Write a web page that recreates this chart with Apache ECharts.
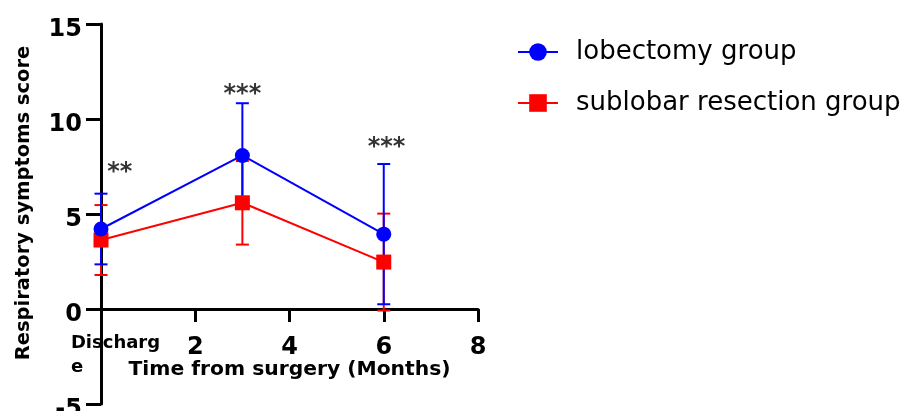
<!DOCTYPE html>
<html><head><meta charset="utf-8">
<script src="https://cdn.jsdelivr.net/npm/echarts@6/dist/echarts.min.js"></script>
<style>html,body{margin:0;padding:0;background:#fff}#c{width:917px;height:411px}</style>
</head><body><div id="c"></div>
<script>
// ---- data ----
const months = [0, 3, 6];
const firstTickLabel = ['Discharg', 'e'];
const lobectomyMean = [4.21, 8.08, 3.94];
const lobectomySD = [1.86, 2.75, 3.69];
const sublobarMean = [3.63, 5.59, 2.47];
const sublobarSD = [1.84, 2.2, 2.55];
const sigLabels = ['**', '***', '***'];
const sigX = [0.4, 3.0, 6.06];
const sigY = [7.37, 11.47, 8.7];
const seriesNames = ['lobectomy group', 'sublobar resection group'];

const FONT = 'DejaVu Sans';
const BLUE = '#0000ff', RED = '#ff0000';

function pts(mean) { return months.map((m, i) => [m, mean[i]]); }
function bars(mean, sd) { return months.map((m, i) => [m, mean[i] - sd[i], mean[i] + sd[i]]); }
function errorBars(color) {
  return function (params, api) {
    const x = api.value(0), lo = api.value(1), hi = api.value(2);
    const top = api.coord([x, hi]), bot = api.coord([x, lo]);
    const w = 6.5;
    const style = { stroke: color, lineWidth: 2 };
    return { type: 'group', children: [
      { type: 'line', shape: { x1: top[0], y1: top[1], x2: bot[0], y2: bot[1] }, style },
      { type: 'line', shape: { x1: top[0] - w, y1: top[1], x2: top[0] + w, y2: top[1] }, style },
      { type: 'line', shape: { x1: bot[0] - w, y1: bot[1], x2: bot[0] + w, y2: bot[1] }, style }
    ] };
  };
}

const chart = echarts.init(document.getElementById('c'), null, { renderer: 'canvas' });
chart.setOption({
  animation: false,
  backgroundColor: '#fff',
  grid: { left: 101, right: 439, top: 24, bottom: 7, containLabel: false, outerBoundsMode: 'none' },
  legend: {
    orient: 'vertical', left: 512, top: 34, itemWidth: 40, itemHeight: 22, itemGap: 25,
    textStyle: { fontSize: 26, fontFamily: FONT, color: '#000', padding: [0, 0, 0, 13] },
    data: seriesNames
  },
  xAxis: {
    type: 'value', min: 0, max: 8, interval: 2,
    position: 'bottom', offset: -95,
    name: 'Time from surgery (Months)', nameLocation: 'middle', nameGap: 51, nameMoveOverlap: false,
    nameTextStyle: { fontSize: 20.3, fontWeight: 'bold', fontFamily: FONT, color: '#000' },
    axisLine: { onZero: false, lineStyle: { color: '#000', width: 3 } },
    axisTick: { length: 13, lineStyle: { color: '#000', width: 3 } },
    splitLine: { show: false },
    axisLabel: {
      margin: 22, fontSize: 24, fontWeight: 'bold', fontFamily: FONT, color: '#000', lineHeight: 34,
      formatter: v => v === 0 ? firstTickLabel.map(s => '{d|' + s + '}').join('\n') : String(v),
      rich: { d: { fontSize: 18, fontWeight: 'bold', fontFamily: FONT, color: '#000', align: 'left', padding: [0, 0, 0, 29], lineHeight: 24 } }
    }
  },
  yAxis: {
    type: 'value', min: -5, max: 15, interval: 5,
    name: 'Respiratory symptoms score', nameLocation: 'middle', nameGap: 67,
    nameTextStyle: { fontSize: 19.5, fontWeight: 'bold', fontFamily: FONT, color: '#000', padding: [0, 0, 0, 22] },
    axisLine: { show: true, lineStyle: { color: '#000', width: 3 } },
    axisTick: { show: true, length: 15, lineStyle: { color: '#000', width: 3 } },
    splitLine: { show: false },
    axisLabel: {
      margin: 19, color: '#000',
      formatter: v => '{a|' + v + '}',
      rich: { a: { fontSize: 24, fontWeight: 'bold', fontFamily: FONT, color: '#000', padding: [12, 0, 0, 0] } }
    }
  },
  series: [
    { type: 'custom', name: 'sub-err', data: bars(sublobarMean, sublobarSD), renderItem: errorBars(RED), z: 1, silent: true },
    { type: 'custom', name: 'lob-err', data: bars(lobectomyMean, lobectomySD), renderItem: errorBars(BLUE), z: 1, silent: true },
    { type: 'line', name: seriesNames[1], data: pts(sublobarMean), symbol: 'rect', symbolSize: 15,
      itemStyle: { color: RED }, lineStyle: { color: RED, width: 2 }, z: 2, emphasis: { disabled: true } },
    { type: 'line', name: seriesNames[0], data: pts(lobectomyMean), symbol: 'circle', symbolSize: 15,
      itemStyle: { color: BLUE }, lineStyle: { color: BLUE, width: 2 }, z: 3, emphasis: { disabled: true } },
    { type: 'scatter', name: 'sig', data: sigX.map((x, i) => [x, sigY[i], sigLabels[i]]), symbolSize: 0, silent: true, z: 5,
      label: { show: true, position: 'inside', formatter: p => p.data[2], fontSize: 24, fontWeight: 'bold', fontFamily: FONT, color: '#000', textBorderWidth: 0, offset: [0, 4] } }
  ]
});
</script></body></html>
